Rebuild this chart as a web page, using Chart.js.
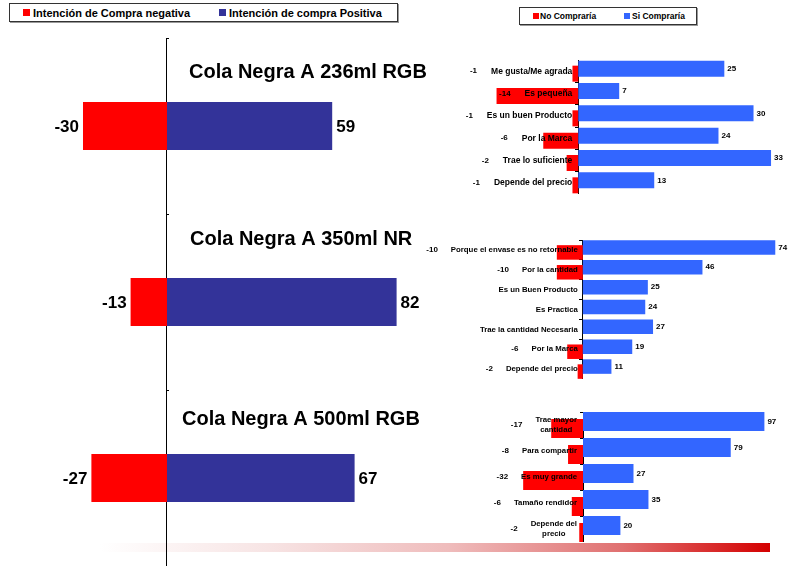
<!DOCTYPE html>
<html lang="es">
<head>
<meta charset="utf-8">
<title>Intención de compra - Cola Negra A</title>
<script src="https://cdn.jsdelivr.net/npm/chart.js@4.4.1/dist/chart.umd.min.js"></script>
<style>
  html, body { margin: 0; padding: 0; background: #fff; }
  body { width: 794px; height: 566px; position: relative; overflow: hidden; font-family: "Liberation Sans", Arial, sans-serif; }
  canvas { position: absolute; }
  .legend { position: absolute; border: 1px solid #333; box-shadow: 1px 1px 0 #999; background: #fff; font-weight: bold; color: #000; }
  .legend span { position: absolute; white-space: nowrap; }
  #fade { position: absolute; left: 100px; top: 543px; width: 670px; height: 9px;
    background: linear-gradient(to right, #ffffff 0%, #f7e4e4 25%, #efbcbc 52%, #e07070 78%, #d40000 100%); }
</style>
</head>
<body>
<div id="fade"></div>

<div class="legend" style="left:9px;top:3px;width:387px;height:17px;font-size:11px;line-height:12px">
  <span style="left:13px;top:5px;width:7px;height:7px;background:#ff0000"></span>
  <span style="left:23px;top:3px">Intención de Compra negativa</span>
  <span style="left:209px;top:5px;width:7px;height:7px;background:#333399"></span>
  <span style="left:219px;top:3px">Intención de compra Positiva</span>
</div>

<div class="legend" style="left:519px;top:7px;width:176px;height:16px;font-size:8.5px;line-height:10px">
  <span style="left:13px;top:5px;width:6px;height:6px;background:#ff0000"></span>
  <span style="left:20px;top:3px">No Compraría</span>
  <span style="left:104px;top:5px;width:6px;height:6px;background:#3366ff"></span>
  <span style="left:112px;top:3px">Si Compraría</span>
</div>

<canvas id="overall" width="440" height="528" style="left:0;top:38px"></canvas>
<canvas id="reasons236" width="394" height="134" style="left:400px;top:60px"></canvas>
<canvas id="reasons350" width="394" height="139" style="left:400px;top:240px"></canvas>
<canvas id="reasons500" width="394" height="130" style="left:400px;top:412px"></canvas>

<script>
// overall purchase intention per presentation
const PRODUCTS = ["Cola Negra A 236ml RGB", "Cola Negra A 350ml NR", "Cola Negra A 500ml RGB"]
const INTENT_NEGATIVE = [-30, -13, -27]
const INTENT_POSITIVE = [59, 82, 67]

// reasons, 236ml RGB
const REASONS_236 = ["Me gusta/Me agrada", "Es pequeña", "Es un buen Producto", "Por la Marca", "Trae lo suficiente", "Depende del precio"]
const SI_236 = [25, 7, 30, 24, 33, 13]
const NO_236 = [-1, -14, -1, -6, -2, -1]

// reasons, 350ml NR
const REASONS_350 = ["Porque el envase es no retornable", "Por la cantidad", "Es un Buen Producto", "Es Practica", "Trae la cantidad Necesaria", "Por la Marca", "Depende del precio"]
const SI_350 = [74, 46, 25, 24, 27, 19, 11]
const NO_350 = [-10, -10, null, null, null, -6, -2]

// reasons, 500ml RGB
const REASONS_500 = [["Trae mayor", "cantidad"], "Para compartir", "Es muy grande", "Tamaño rendidor", ["Depende del", "precio"]]
const SI_500 = [97, 79, 27, 35, 20]
const NO_500 = [-17, -8, -32, -6, -2]

const FONT = '"Liberation Sans", Arial, sans-serif'
const RED = "#ff0000"
const NAVY = "#333399"
const BLUE = "#3366ff"

// where each product title sits relative to the zero line / its bar
const TITLE_OFFSETS = [[22, -54], [23, -63], [15, -59]]

Chart.defaults.font.family = FONT
Chart.defaults.animation = false

const productTitles = {
  id: "productTitles",
  afterDraw(chart) {
    const { ctx, scales } = chart
    const x0 = scales.x.getPixelForValue(0)
    ctx.save()
    ctx.font = "bold 20px " + FONT
    ctx.fillStyle = "#000"
    ctx.textAlign = "left"
    ctx.textBaseline = "middle"
    chart.data.labels.forEach((label, i) => {
      const [dx, dy] = TITLE_OFFSETS[i]
      ctx.fillText(label, x0 + dx, scales.y.getPixelForValue(i) + dy)
    })
    ctx.restore()
  },
}

const bigValues = {
  id: "bigValues",
  afterDatasetsDraw(chart) {
    const ctx = chart.ctx
    ctx.save()
    ctx.font = "bold 17px " + FONT
    ctx.fillStyle = "#000"
    ctx.textBaseline = "middle"
    chart.data.datasets.forEach((ds, di) => {
      chart.getDatasetMeta(di).data.forEach((bar, i) => {
        const v = ds.data[i]
        if (v < 0) {
          ctx.textAlign = "right"
          ctx.fillText(v, bar.x - 4, bar.y + 1)
        } else {
          ctx.textAlign = "left"
          ctx.fillText(v, bar.x + 4, bar.y + 1)
        }
      })
    })
    ctx.restore()
  },
}

new Chart(document.getElementById("overall"), {
  type: "bar",
  data: {
    labels: PRODUCTS,
    datasets: [
      { label: "Intención de Compra negativa", data: INTENT_NEGATIVE, backgroundColor: RED },
      { label: "Intención de compra Positiva", data: INTENT_POSITIVE, backgroundColor: NAVY },
    ],
  },
  options: {
    indexAxis: "y",
    responsive: false,
    events: [],
    layout: { padding: 0 },
    datasets: { bar: { barPercentage: 0.273, categoryPercentage: 1, borderWidth: 0 } },
    scales: {
      x: { type: "linear", display: false, stacked: true, min: -59.64, max: 97.5 },
      y: {
        type: "category",
        stacked: true,
        position: { x: 0 },
        offset: true,
        ticks: { display: false },
        grid: { drawOnChartArea: false, offset: true, color: "#000", tickLength: -3 },
        border: { color: "#000", width: 1 },
      },
    },
    plugins: { legend: { display: false }, tooltip: { enabled: false } },
  },
  plugins: [productTitles, bigValues],
})

function reasonLabels(fontSize, pad, gap) {
  return {
    id: "reasonLabels",
    afterDatasetsDraw(chart) {
      const { ctx, scales: { x, y } } = chart
      const axisX = x.getPixelForValue(0)
      const right = axisX - pad
      const noValues = chart.data.datasets[1].data
      ctx.save()
      ctx.fillStyle = "#000"
      ctx.textBaseline = "middle"
      chart.data.labels.forEach((label, i) => {
        const lines = Array.isArray(label) ? label : [label]
        const cy = y.getPixelForValue(i)
        ctx.font = `bold ${fontSize}px ${FONT}`
        const widest = Math.max(...lines.map((l) => ctx.measureText(l).width))
        const lineH = fontSize + 1.5
        ctx.textAlign = "center"
        lines.forEach((line, k) => {
          ctx.fillText(line, right - widest / 2, cy + (k - (lines.length - 1) / 2) * lineH)
        })
        const v = noValues[i]
        if (v != null) {
          ctx.font = "bold 8px " + FONT
          ctx.textAlign = "right"
          ctx.fillText(v, right - widest - gap, cy)
        }
      })
      ctx.font = "bold 8px " + FONT
      ctx.textAlign = "left"
      const siValues = chart.data.datasets[0].data
      chart.getDatasetMeta(0).data.forEach((bar, i) => {
        ctx.fillText(siValues[i], bar.x + 3, bar.y)
      })
      ctx.restore()
    },
  }
}

function reasonChart(id, labels, si, no, xMin, xMax, catPct, barPct, fontSize, pad, gap) {
  return new Chart(document.getElementById(id), {
    type: "bar",
    data: {
      labels: labels,
      datasets: [
        { label: "Si Compraría", data: si, backgroundColor: BLUE },
        { label: "No Compraría", data: no, backgroundColor: RED },
      ],
    },
    options: {
      indexAxis: "y",
      responsive: false,
      events: [],
      layout: { padding: 0 },
      datasets: { bar: { categoryPercentage: catPct, barPercentage: barPct, borderWidth: 0 } },
      scales: {
        x: { type: "linear", display: false, min: xMin, max: xMax },
        y: {
          type: "category",
          position: { x: 0 },
          offset: true,
          ticks: { display: false },
          grid: { drawOnChartArea: false, offset: true, color: "#000", tickLength: 3 },
          border: { color: "#000", width: 1 },
        },
      },
      plugins: { legend: { display: false }, tooltip: { enabled: false } },
    },
    plugins: [reasonLabels(fontSize, pad, gap)],
  })
}

reasonChart("reasons236", REASONS_236, SI_236, NO_236, -30.53, 36.93, 0.448, 3.2, 8.5, 6, 14)
reasonChart("reasons350", REASONS_350, SI_350, NO_350, -70.3, 81.2, 0.504, 2.9, 7.8, 5, 13)
reasonChart("reasons500", REASONS_500, SI_500, NO_500, -97.86, 112.83, 0.538, 2.714, 7.8, 6, 13)
</script>
</body>
</html>
